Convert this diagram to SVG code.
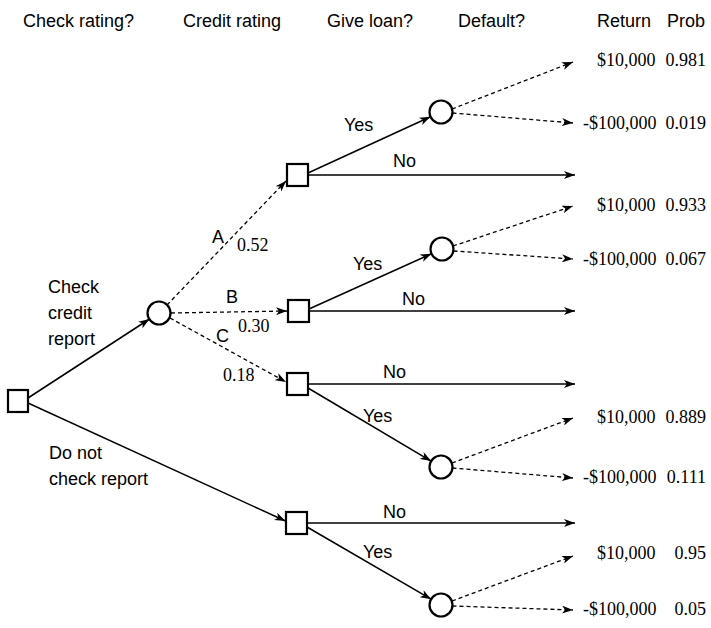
<svg xmlns="http://www.w3.org/2000/svg" width="711" height="628" viewBox="0 0 711 628">
<defs>
<marker id="ah" markerUnits="userSpaceOnUse" markerWidth="12" markerHeight="8" refX="11" refY="4" orient="auto">
<path d="M0,0 L11,4 L0,8 L3,4 z" fill="#000"/>
</marker>
</defs>
<style>
.sans{font-family:"Liberation Sans",Arial,sans-serif;font-size:18px;fill:#000}
.ser{font-family:"Liberation Serif","Times New Roman",serif;font-size:18px;fill:#000}
.solid{stroke:#000;stroke-width:1.5;fill:none;marker-end:url(#ah)}
.dash{stroke:#000;stroke-width:1.3;stroke-dasharray:4 3;fill:none;marker-end:url(#ah)}
.node{stroke:#000;stroke-width:2.2;fill:#fff}
</style>
<rect width="711" height="628" fill="#fff"/>
<g id="headers" class="sans">
<text x="23" y="27">Check rating?</text>
<text x="183" y="27">Credit rating</text>
<text x="327" y="27">Give loan?</text>
<text x="458" y="27">Default?</text>
<text x="597" y="27">Return</text>
<text x="667" y="27">Prob</text>
</g>
<g id="connectors">
<line class="solid" x1="28" y1="398" x2="149.5" y2="319"/>
<line class="solid" x1="28" y1="403" x2="285.5" y2="521"/>
<line class="dash" x1="167" y1="305" x2="286" y2="181"/>
<line class="dash" x1="171" y1="313" x2="287" y2="311"/>
<line class="dash" x1="170" y1="318" x2="286" y2="382"/>
<line class="solid" x1="308" y1="173" x2="430.5" y2="116.8"/>
<line class="solid" x1="308" y1="175" x2="575" y2="175"/>
<line class="dash" x1="452" y1="109" x2="573" y2="62"/>
<line class="dash" x1="452.5" y1="113" x2="573" y2="123"/>
<line class="solid" x1="309" y1="309" x2="431.5" y2="253.7"/>
<line class="solid" x1="309" y1="311" x2="575" y2="311"/>
<line class="dash" x1="453" y1="246" x2="573" y2="206"/>
<line class="dash" x1="453.5" y1="251" x2="573" y2="259"/>
<line class="solid" x1="308" y1="384" x2="575" y2="384"/>
<line class="solid" x1="308" y1="388" x2="431.1" y2="461.1"/>
<line class="dash" x1="452" y1="463" x2="573" y2="418"/>
<line class="dash" x1="452.5" y1="468" x2="573" y2="478"/>
<line class="solid" x1="307" y1="523" x2="575" y2="523"/>
<line class="solid" x1="307" y1="527" x2="431.1" y2="599.2"/>
<line class="dash" x1="452" y1="601" x2="573" y2="556"/>
<line class="dash" x1="452.5" y1="606" x2="573" y2="610"/>
</g>
<g id="root"><rect class="node" x="8" y="390" width="20" height="22"/></g>
<g id="credit-chance"><circle class="node" cx="159" cy="313" r="11.5"/></g>
<g id="dec-A"><rect class="node" x="287" y="164" width="21" height="22"/></g>
<g id="dec-B"><rect class="node" x="288" y="300" width="21" height="22"/></g>
<g id="dec-C"><rect class="node" x="287" y="373" width="21" height="22"/></g>
<g id="dec-D"><rect class="node" x="286" y="512" width="21" height="22"/></g>
<g id="def-A"><circle class="node" cx="441" cy="112" r="11.5"/></g>
<g id="def-B"><circle class="node" cx="442" cy="249" r="11.5"/></g>
<g id="def-C"><circle class="node" cx="441" cy="467" r="11.5"/></g>
<g id="def-D"><circle class="node" cx="441" cy="605" r="11.5"/></g>
<g id="labels">
<text class="sans" x="48" y="293">Check</text>
<text class="sans" x="48" y="319">credit</text>
<text class="sans" x="48" y="345">report</text>
<text class="sans" x="49" y="459">Do not</text>
<text class="sans" x="49" y="485">check report</text>
<text class="sans" x="212" y="243">A</text>
<text class="ser" x="237" y="251">0.52</text>
<text class="sans" x="226" y="303">B</text>
<text class="ser" x="238" y="332">0.30</text>
<text class="sans" x="216" y="342">C</text>
<text class="ser" x="223" y="381">0.18</text>
<text class="sans" x="344" y="131">Yes</text>
<text class="sans" x="393" y="167">No</text>
<text class="sans" x="353" y="270">Yes</text>
<text class="sans" x="402" y="305">No</text>
<text class="sans" x="383" y="378">No</text>
<text class="sans" x="363" y="422">Yes</text>
<text class="sans" x="383" y="518">No</text>
<text class="sans" x="363" y="558">Yes</text>
</g>
<g id="outcomes" class="ser">
<text x="597" y="66">$10,000</text><text x="706" y="66" text-anchor="end">0.981</text>
<text x="583" y="129">-$100,000</text><text x="706" y="129" text-anchor="end">0.019</text>
<text x="597" y="211">$10,000</text><text x="706" y="211" text-anchor="end">0.933</text>
<text x="583" y="265">-$100,000</text><text x="706" y="265" text-anchor="end">0.067</text>
<text x="597" y="423">$10,000</text><text x="706" y="423" text-anchor="end">0.889</text>
<text x="583" y="483">-$100,000</text><text x="706" y="483" text-anchor="end">0.111</text>
<text x="597" y="559">$10,000</text><text x="706" y="559" text-anchor="end">0.95</text>
<text x="583" y="615">-$100,000</text><text x="706" y="615" text-anchor="end">0.05</text>
</g>
</svg>
